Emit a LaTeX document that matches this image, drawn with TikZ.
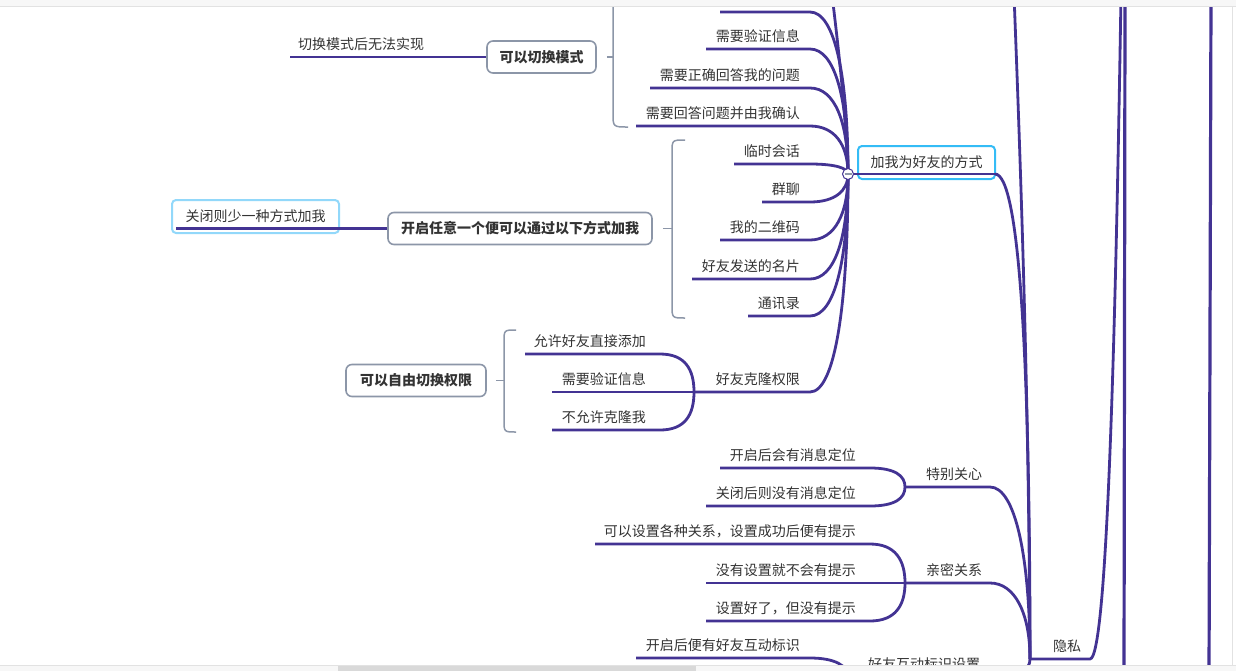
\documentclass[tikz,border=0pt]{standalone}
\usepackage{fontspec}
\setmainfont{Noto Sans CJK SC}
\usetikzlibrary{positioning,calc}

\definecolor{purp}{RGB}{67,51,147}
\definecolor{slate}{RGB}{140,150,168}
\definecolor{ink}{RGB}{51,51,51}
\definecolor{selblue}{RGB}{52,188,246}
\definecolor{paleblue}{RGB}{146,216,250}
\definecolor{chrome}{RGB}{247,247,247}
\definecolor{chromeline}{RGB}{226,226,226}

\begin{document}
\begin{tikzpicture}[
    x=1pt, y=-1pt,
    txt/.style={font=\fontsize{14}{16}\selectfont, text=ink, inner sep=0pt},
    topic/.style={txt, font=\fontsize{14}{16}\selectfont\bfseries, draw=slate, line width=1.6pt, rounded corners=6pt, fill=white, minimum height=32pt},
    picked/.style={txt, draw=selblue, line width=2pt, rounded corners=4pt, fill=white, minimum height=33pt},
    twig/.style={draw=purp, line width=2.8pt},
    bracket/.style={draw=slate, line width=1.5pt},
    trunk/.style={draw=purp, line width=3.2pt}
  ]
  \useasboundingbox (0,0) rectangle (1236,670);

  %% ---- topic boxes ----
  \node[topic, minimum width=109pt] (mode) at (541.5,57) {可以切换模式};
  \node[topic, minimum width=264pt] (anyway) at (520,228.5) {开启任意一个便可以通过以下方式加我};
  \node[topic, minimum width=140pt] (perm) at (416,380.5) {可以自由切换权限};
  \node[picked, minimum width=137pt] (ways) at (926.5,162.5) {加我为好友的方式};
  \node[picked, draw=paleblue, minimum width=167pt] (closed) at (255.5,216.5) {关闭则少一种方式加我};

  %% ---- left notes ----
  \node[txt, anchor=south west] (nomode) at (298,51) {切换模式后无法实现};
  \coordinate (nomode-s) at (290,57);
  \draw[twig] (nomode-s) -- (mode.west);
  \coordinate (closed-s) at (176,228.5);
  \draw[twig] (closed-s) -- (anyway.west);

  %% ---- brackets ----
  \draw[bracket] ([xshift=10pt]mode.east) -- ++(6,0);
  \draw[bracket] (613,-10) -- (613,113) .. controls (613,127) .. (628,127);
  \draw[bracket] ([xshift=10pt]anyway.east) -- ++(10,0);
  \draw[bracket] (685,140) .. controls (672,140) .. (672,153) -- (672,305) .. controls (672,318) .. (685,318);
  \draw[bracket] ([xshift=9pt]perm.east) -- ++(9,0);
  \draw[bracket] (516,330) .. controls (504,330) .. (504,342) -- (504,420) .. controls (504,432) .. (516,432);

  %% ---- ways to add me ----
  \coordinate (waysHub) at (848,174);
  \coordinate (ways-e) at (995,174);
  \coordinate (upper) at (832,-5);
  \coordinate (hidden-s) at (720,12);
  \draw[twig] (upper) .. controls (840,60) and (846,120) .. (waysHub);
  \draw[twig] (hidden-s) -- (810,12) .. controls +(25,0) and ($(waysHub)!0.6!(waysHub|-hidden-s)$) .. (waysHub);
  \foreach \n/\xs/\ys/\t in {verify/706/49/需要验证信息, answer/650/88/需要正确回答我的问题,
      confirm/636/126/需要回答问题并由我确认, temp/734/164/临时会话, group/762/202/群聊,
      qr/720/240/我的二维码, card/692/279/好友发送的名片, contacts/748/316/通讯录,
      clone/694/392/好友克隆权限}{
    \coordinate (\n-s) at (\xs,\ys);
    \coordinate (\n-e) at (810,\ys);
    \node[txt, anchor=south east] (\n) at ([shift={(-10,-6)}]\n-e) {\t};
    \draw[twig] (\n-s) -- (\n-e) .. controls +(25,0) and ($(waysHub)!0.6!(waysHub|-\n-e)$) .. (waysHub);
  }
  \draw[twig] (waysHub) -- (ways-e);

  %% clone permission choices
  \foreach \n/\xs/\ys/\t in {allow/525/354/允许好友直接添加, verifytoo/552/392/需要验证信息, deny/552/430/不允许克隆我}{
    \coordinate (\n-s) at (\xs,\ys);
    \coordinate (\n-e) at (660,\ys);
    \node[txt, anchor=south east] (\n) at ([shift={(-14,-6)}]\n-e) {\t};
    \draw[twig] (\n-s) -- (\n-e) .. controls +(25,0) and ($(clone-s)!0.6!(clone-s|-\n-e)$) .. (clone-s);
  }

  %% ---- privacy ----
  \coordinate (privHub) at (1030,659);
  \coordinate (priv-e) at (1090,659);
  \coordinate (upper2) at (1014,-5);
  \coordinate (privTop) at (1121,-5);
  \node[txt, anchor=south west] (priv) at (1053,653) {隐私};
  \draw[twig] (privHub) -- (priv-e) .. controls (1108,659) and (1116,300) .. (privTop);
  \draw[twig] (upper2) .. controls (1024,250) and (1029,450) .. (privHub);
  \draw[twig] (ways-e) .. controls +(25,0) and ($(privHub)!0.6!(privHub|-ways-e)$) .. (privHub);

  %% special care
  \coordinate (careHub) at (905,487);
  \coordinate (care-e) at (990,487);
  \node[txt, anchor=south west] (care) at (926,481) {特别关心};
  \draw[twig] (careHub) -- (care-e) .. controls +(25,0) and ($(privHub)!0.6!(privHub|-care-e)$) .. (privHub);
  \foreach \n/\xs/\ys/\t in {careon/720/468/开启后会有消息定位, careoff/706/506/关闭后则没有消息定位}{
    \coordinate (\n-s) at (\xs,\ys);
    \coordinate (\n-e) at (870,\ys);
    \node[txt, anchor=south east] (\n) at ([shift={(-14,-6)}]\n-e) {\t};
    \draw[twig] (\n-s) -- (\n-e) .. controls +(25,0) and ($(careHub)!0.6!(careHub|-\n-e)$) .. (careHub);
  }

  %% close relation
  \coordinate (closeHub) at (905,583);
  \coordinate (close-e) at (990,583);
  \node[txt, anchor=south west] (close) at (926,577) {亲密关系};
  \draw[twig] (closeHub) -- (close-e) .. controls +(25,0) and ($(privHub)!0.6!(privHub|-close-e)$) .. (privHub);
  \foreach \n/\xs/\ys/\t in {relset/595/544/可以设置各种关系，设置成功后便有提示, relnone/706/583/没有设置就不会有提示,
      relmiss/706/621/设置好了，但没有提示}{
    \coordinate (\n-s) at (\xs,\ys);
    \coordinate (\n-e) at (870,\ys);
    \node[txt, anchor=south east] (\n) at ([shift={(-14,-6)}]\n-e) {\t};
    \draw[twig] (\n-s) -- (\n-e) .. controls +(25,0) and ($(closeHub)!0.6!(closeHub|-\n-e)$) .. (closeHub);
  }

  %% interaction mark
  \coordinate (markHub) at (848,677);
  \coordinate (mark-e) at (995,677);
  \node[txt, anchor=south west] (mark) at (868,671) {好友互动标识设置};
  \draw[twig] (markHub) -- (mark-e) .. controls +(25,0) and ($(privHub)!0.6!(privHub|-mark-e)$) .. (privHub);
  \coordinate (markon-s) at (636,658);
  \coordinate (markon-e) at (810,658);
  \node[txt, anchor=south east] (markon) at ([shift={(-10,-6)}]markon-e) {开启后便有好友互动标识};
  \draw[twig] (markon-s) -- (markon-e) .. controls +(25,0) and ($(markHub)!0.6!(markHub|-markon-e)$) .. (markHub);

  %% ---- trunks from the root ----
  \coordinate (trunkA-top) at (1125,-5);
  \coordinate (trunkA-bot) at (1124,675);
  \coordinate (trunkB-top) at (1211,-5);
  \coordinate (trunkB-bot) at (1209,675);
  \draw[trunk] (trunkA-top) -- (trunkA-bot);
  \draw[trunk] (trunkB-top) -- (trunkB-bot);

  %% collapse button
  \node[circle, draw=purp, fill=white, line width=1pt, minimum size=11pt, inner sep=0pt] (fold) at (waysHub) {};
  \draw[slate, line width=1.4pt] ([xshift=-3.5pt]fold.center) -- ([xshift=3.5pt]fold.center);

  %% ---- window chrome ----
  \fill[chrome] (-10,-20) rectangle (1250,6);
  \draw[chromeline] (-10,6.5) -- (1250,6.5);
  \fill[chrome] (-10,665) rectangle (1250,700);
  \draw[chromeline] (-10,665) -- (1250,665);
  \fill[gray!30] (338,665.5) rectangle (696,700);
  \draw[chromeline] (1232.5,6.5) -- (1232.5,665);
\end{tikzpicture}
\end{document}
